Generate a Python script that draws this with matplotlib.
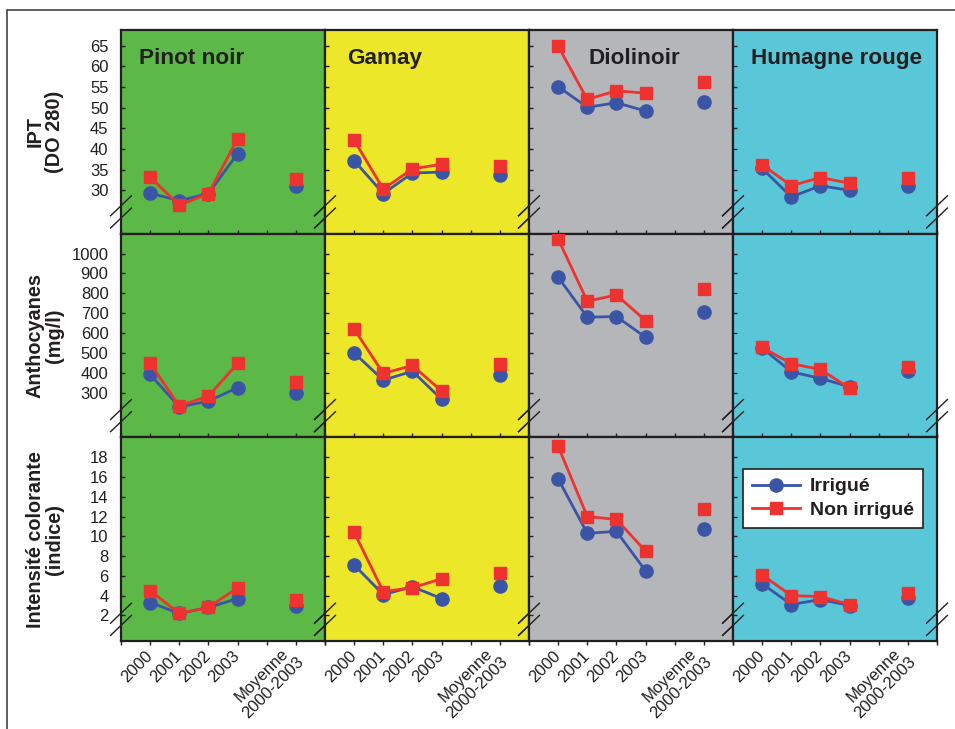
import numpy as np
import matplotlib
matplotlib.use('Agg')
import matplotlib.pyplot as plt
from matplotlib.patches import Rectangle

plt.rcParams['font.family'] = ['Liberation Sans', 'DejaVu Sans']

# donnees (2000, 2001, 2002, 2003, moyenne 2000-2003)
cepages = ['Pinot noir', 'Gamay', 'Diolinoir', 'Humagne rouge']
annees = ['2000', '2001', '2002', '2003', 'Moyenne\n2000-2003']
x_annees = [1, 2, 3, 4]
x_moyenne = 6

ipt_irrigue = [[29.3, 27.5, 29.2, 38.9, 31.0],
               [37.2, 29.2, 34.2, 34.4, 33.8],
               [55.1, 50.1, 51.2, 49.2, 51.4],
               [35.3, 28.4, 31.1, 30.0, 31.1]]
ipt_non_irrigue = [[33.2, 26.4, 29.2, 42.5, 32.8],
                   [42.1, 30.3, 35.2, 36.3, 36.0],
                   [64.9, 52.0, 54.1, 53.5, 56.1],
                   [36.2, 31.1, 33.1, 31.7, 33.1]]

antho_irrigue = [[392, 228, 258, 325, 300],
                 [500, 363, 408, 267, 387],
                 [881, 680, 683, 579, 707],
                 [525, 405, 372, 330, 409]]
antho_non_irrigue = [[447, 233, 283, 447, 353],
                     [620, 397, 437, 308, 442],
                     [1074, 760, 792, 663, 823],
                     [528, 446, 417, 323, 429]]

ic_irrigue = [[3.3, 2.2, 2.8, 3.7, 3.0],
              [7.1, 4.1, 4.9, 3.7, 5.0],
              [15.8, 10.3, 10.5, 6.5, 10.75],
              [5.2, 3.1, 3.6, 3.0, 3.8]]
ic_non_irrigue = [[4.5, 2.2, 2.8, 4.8, 3.6],
                  [10.4, 4.4, 4.8, 5.7, 6.3],
                  [19.1, 12.0, 11.7, 8.5, 12.8],
                  [6.1, 4.0, 3.9, 3.1, 4.3]]

ylabels = ['IPT\n(DO 280)', 'Anthocyanes\n(mg/l)', 'Intensité colorante\n(indice)']
yticks = [np.arange(30, 66, 5), np.arange(300, 1001, 100), np.arange(2, 19, 2)]
ylims = [(19.5, 68.8), (75, 1100), (-0.6, 20)]

fonds = ['#5cb947', '#ede729', '#b5b6ba', '#5ac7d8']
bleu = '#3a55a5'
rouge = '#ed3230'
noir = '#231f20'

mesures = [(ipt_irrigue, ipt_non_irrigue),
           (antho_irrigue, antho_non_irrigue),
           (ic_irrigue, ic_non_irrigue)]

W, H = 955, 729
fig = plt.figure(figsize=(W / 100, H / 100), dpi=100)

# cadre exterieur
fig.patches.append(Rectangle((7 / W, -0.2), 1.5, 1.2 - 10 / H, transform=fig.transFigure,
                             fill=False, edgecolor='#333333', lw=1.1, clip_on=False))

left, top = 121, 30
cw, rh = 204, 203.7
title_x = [0.088, 0.108, 0.294, 0.088]

for r in range(3):
    irr, nonirr = mesures[r]
    for c in range(4):
        x0 = (left + c * cw) / W
        y0 = 1 - (top + (r + 1) * rh) / H
        ax = fig.add_axes([x0, y0, cw / W, rh / H])
        ax.set_facecolor(fonds[c])
        ax.set_xlim(0, 7)
        ax.set_ylim(*ylims[r])
        for s in ax.spines.values():
            s.set_linewidth(1.6)
            s.set_color(noir)

        ax.plot(x_annees, irr[c][:4], color=bleu, lw=2, marker='o', ms=9.5, zorder=3)
        ax.plot([x_moyenne], [irr[c][4]], color=bleu, marker='o', ms=9.5, ls='none', zorder=3)
        ax.plot(x_annees, nonirr[c][:4], color=rouge, lw=2, marker='s', ms=8.5, zorder=4)
        ax.plot([x_moyenne], [nonirr[c][4]], color=rouge, marker='s', ms=8.5, ls='none', zorder=4)

        ax.set_xticks(range(8))
        ax.set_yticks(yticks[r])
        ax.tick_params(axis='y', direction='in', length=3, width=1, color=noir,
                       labelsize=12, labelcolor=noir, pad=9, labelleft=(c == 0))
        if r < 2:
            ax.tick_params(axis='x', direction='in', length=3, width=1, color=noir, labelbottom=False)
        else:
            ax.tick_params(axis='x', direction='out', length=3, width=1, color=noir, pad=6)
            ax.set_xticklabels([''] + annees[:4] + ['', annees[4], ''])
            for lab in ax.get_xticklabels():
                lab.set_rotation(45)
                lab.set_ha('right')
                lab.set_va('center')
                lab.set_rotation_mode('anchor')
                lab.set_fontsize(12)
                lab.set_color(noir)
                lab.set_multialignment('center')
                lab.set_linespacing(1.15)

        if r == 0:
            ax.text(title_x[c], 0.862, cepages[c], transform=ax.transAxes, ha='left', va='center',
                    fontsize=16.2, fontweight='bold', color=noir)

        # marques de coupure
        for xe in (0, 1):
            for yc in (0.137, 0.077):
                ax.plot([xe - 0.051, xe + 0.051], [yc - 0.049, yc + 0.049], transform=ax.transAxes,
                        color=noir, lw=1, clip_on=False, zorder=6)

        if r == 2 and c == 3:
            leg = ax.legend([ax.lines[0], ax.lines[2]], ['Irrigué', 'Non irrigué'],
                            loc='upper left', bbox_to_anchor=(0.049, 0.845), borderaxespad=0,
                            prop={'weight': 'bold', 'size': 14}, fancybox=False, framealpha=1,
                            edgecolor=noir, handlelength=2.5, handletextpad=0.5,
                            borderpad=0.45, labelspacing=0.3)
            leg.get_frame().set_linewidth(1.2)
            for t in leg.get_texts():
                t.set_color(noir)

    fig.text(45 / W, 1 - (top + (r + 0.5) * rh) / H, ylabels[r], rotation=90, ha='center',
             va='center', multialignment='center', fontsize=14.3, fontweight='bold', color=noir,
             linespacing=1.05)

fig.savefig('out.png', dpi=100)
